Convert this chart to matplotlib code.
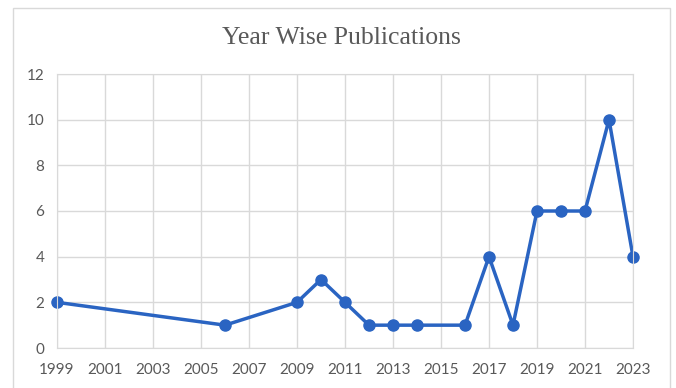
import matplotlib
matplotlib.use("Agg")
import matplotlib.pyplot as plt
from matplotlib.patches import Rectangle

# publications per year
years = [1999, 2006, 2009, 2010, 2011, 2012, 2013, 2014, 2016, 2017, 2018, 2019, 2020, 2021, 2022, 2023]
counts = [2, 1, 2, 3, 2, 1, 1, 1, 1, 4, 1, 6, 6, 6, 10, 4]
xticks = list(range(1999, 2024, 2))
yticks = [0, 2, 4, 6, 8, 10, 12]

fig = plt.figure(figsize=(6.76, 3.88), dpi=100)
# outer chart frame
fig.patches.append(Rectangle((13 / 676, -0.05), (670 - 13) / 676, 1.05 - 8 / 388,
                             transform=fig.transFigure, fill=False,
                             edgecolor="#d9d9d9", linewidth=1.0))

ax = fig.add_axes([57 / 676, 1 - 348 / 388, (633 - 57) / 676, (348 - 74) / 388])
ax.plot(years, counts, "-o", color="#2a64c2", linewidth=2.5, markersize=8, clip_on=False)

ax.set_xlim(1999, 2023)
ax.set_ylim(0, 12)
ax.set_xticks(xticks)
ax.set_yticks(yticks)
ax.grid(True, color="#d9d9d9", linewidth=1.0)
ax.set_axisbelow(True)
for s in ax.spines.values():
    s.set_color("#d9d9d9")
ax.tick_params(axis="x", pad=11)
ax.tick_params(axis="y", pad=9)
ax.tick_params(length=0, labelsize=11, labelcolor="#595959")
for lab in ax.get_xticklabels() + ax.get_yticklabels():
    lab.set_family("Lato")

fig.text(341 / 676, 1 - 38 / 388, "Year Wise Publications", ha="center", va="center",
         fontsize=18.5, color="#595959", family="Liberation Serif")

fig.savefig("out.png", dpi=100)
